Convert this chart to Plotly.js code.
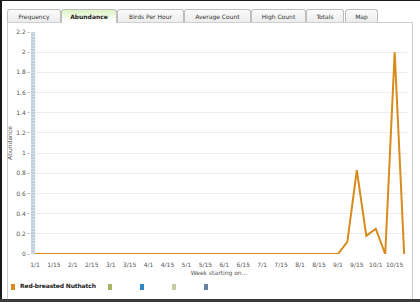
<!DOCTYPE html>
<html><head><meta charset="utf-8">
<script src="https://cdn.plot.ly/plotly-3.0.1.min.js"></script>
<style>
html,body{margin:0;padding:0;background:#fff;}
#frame{position:relative;width:420px;height:302px;overflow:hidden;background:#fff;font-family:"DejaVu Sans",Verdana,sans-serif;}
#lb{position:absolute;left:0;top:0;width:2px;height:302px;background:#1a1a1a;}
#tb{position:absolute;left:0;top:0;width:420px;height:1px;background:#1a1a1a;}
#bb{position:absolute;left:0;top:299px;width:420px;height:3px;background:#3a3a3a;}
#panel{position:absolute;left:7px;top:22px;width:404px;height:276px;border:1px solid #cfcfcf;background:#fff;}
.tab{position:absolute;top:9px;height:13px;border:1px solid #bdbdbd;border-bottom:none;border-radius:3px 3px 0 0;background:linear-gradient(#fbfbfb,#ececec);font-size:6px;color:#333333;text-align:center;line-height:13px;box-sizing:border-box;}
.tab.active{background:linear-gradient(#dcf2c2,#fff 85%);font-weight:bold;height:14px;color:#222;z-index:2;}
#chart{position:absolute;left:0;top:0;width:420px;height:302px;}
.leg{position:absolute;top:284px;width:4px;height:6px;}
.legt{position:absolute;top:282px;font-size:6px;letter-spacing:-0.15px;font-weight:bold;color:#222;white-space:nowrap;}
</style></head>
<body>
<div id="frame">
  <div id="panel"></div>
  <div id="tabs"></div>
  <div id="chart"></div>
  <div id="legend"></div>
  <div id="lb"></div><div id="tb"></div><div id="bb"></div>
</div>
<script>
// ---- data ----
var tabNames = ['Frequency','Abundance','Birds Per Hour','Average Count','High Count','Totals','Map'];
var activeTab = 'Abundance';
var weeks = ['1/1','1/8','1/15','1/22','2/1','2/8','2/15','2/22','3/1','3/8','3/15','3/22',
             '4/1','4/8','4/15','4/22','5/1','5/8','5/15','5/22','6/1','6/8','6/15','6/22',
             '7/1','7/8','7/15','7/22','8/1','8/8','8/15','8/22','9/1','9/8','9/15','9/22',
             '10/1','10/8','10/15','10/22'];
var abundance = [0,0,0,0,0,0,0,0,0,0,0,0,
                 0,0,0,0,0,0,0,0,0,0,0,0,
                 0,0,0,0,0,0,0,0,0,0.12,0.83,0.18,
                 0.25,0,2.0,0];
var tickLabels = ['1/1','1/15','2/1','2/15','3/1','3/15','4/1','4/15','5/1','5/15',
                  '6/1','6/15','7/1','7/15','8/1','8/15','9/1','9/15','10/1','10/15'];
var yTicks = [0,0.2,0.4,0.6,0.8,1,1.2,1.4,1.6,1.8,2,2.2];
var highlightWeek = ['1/1'];
var highlightValue = [2.2];
var seriesNames = ['Red-breasted Nuthatch','','','',''];
var seriesColors = ['#d88b1c','#a4b462','#2f88c6','#c8cba2','#6782a0'];

// ---- page chrome (tabs, legend) ----
var tabLefts = [7,61,117,184,251,306,345];
var tabWidths = [54,56,67,67,55,38,33];
var tabsDiv = document.getElementById('tabs');
tabNames.forEach(function(n,i){
  var d = document.createElement('div');
  d.className = 'tab' + (n===activeTab?' active':'');
  d.style.left = tabLefts[i]+'px'; d.style.width = tabWidths[i]+'px';
  d.textContent = n;
  tabsDiv.appendChild(d);
});
var legLefts = [11,108,140,172,204];
var legDiv = document.getElementById('legend');
seriesNames.forEach(function(n,i){
  var s = document.createElement('div');
  s.className='leg'; s.style.left=legLefts[i]+'px'; s.style.background=seriesColors[i];
  legDiv.appendChild(s);
  if(n){
    var t=document.createElement('div');
    t.className='legt'; t.style.left=(legLefts[i]+9)+'px'; t.textContent=n;
    legDiv.appendChild(t);
  }
});

// ---- chart ----
var traces = [
  {type:'bar', x:highlightWeek, y:highlightValue, width:0.46, offset:-0.44,
   marker:{color:'#c3d0de', line:{width:0},
           pattern:{shape:'-', fgcolor:'#d9e2ec', bgcolor:'#bfcddc', size:3, solidity:0.3}},
   hoverinfo:'skip', showlegend:false},
  {type:'scatter', mode:'lines', x:weeks, y:abundance, name:seriesNames[0],
   line:{color:seriesColors[0], width:2}, showlegend:false}
];
var layout = {
  width:420, height:302,
  margin:{l:31, r:13, t:32, b:48},
  paper_bgcolor:'rgba(0,0,0,0)', plot_bgcolor:'rgba(0,0,0,0)',
  font:{family:'"DejaVu Sans", Verdana, sans-serif', size:6, color:'#555'},
  xaxis:{type:'category', categoryarray:weeks, range:[-0.42,39.3],
         tickmode:'array', tickvals:tickLabels, ticktext:tickLabels,
         showgrid:false, zeroline:false, showline:false,
         ticks:'outside', ticklen:5, tickcolor:'rgba(0,0,0,0)',
         tickfont:{size:6, color:'#555'},
         title:{text:'Week starting on...', font:{size:6, color:'#555'}, standoff:3}},
  yaxis:{range:[0,2.2], tickmode:'array', tickvals:yTicks, ticktext:yTicks.map(String),
         showgrid:true, gridcolor:'#ececec', gridwidth:1, zeroline:false, showline:false,
         ticks:'outside', ticklen:3, tickcolor:'#cccccc',
         tickfont:{size:6, color:'#555'},
         title:{text:'Abundance', font:{size:6, color:'#555'}, standoff:3}},
  showlegend:false
};
Plotly.newPlot('chart', traces, layout, {displayModeBar:false, staticPlot:true});
</script>
</body></html>
